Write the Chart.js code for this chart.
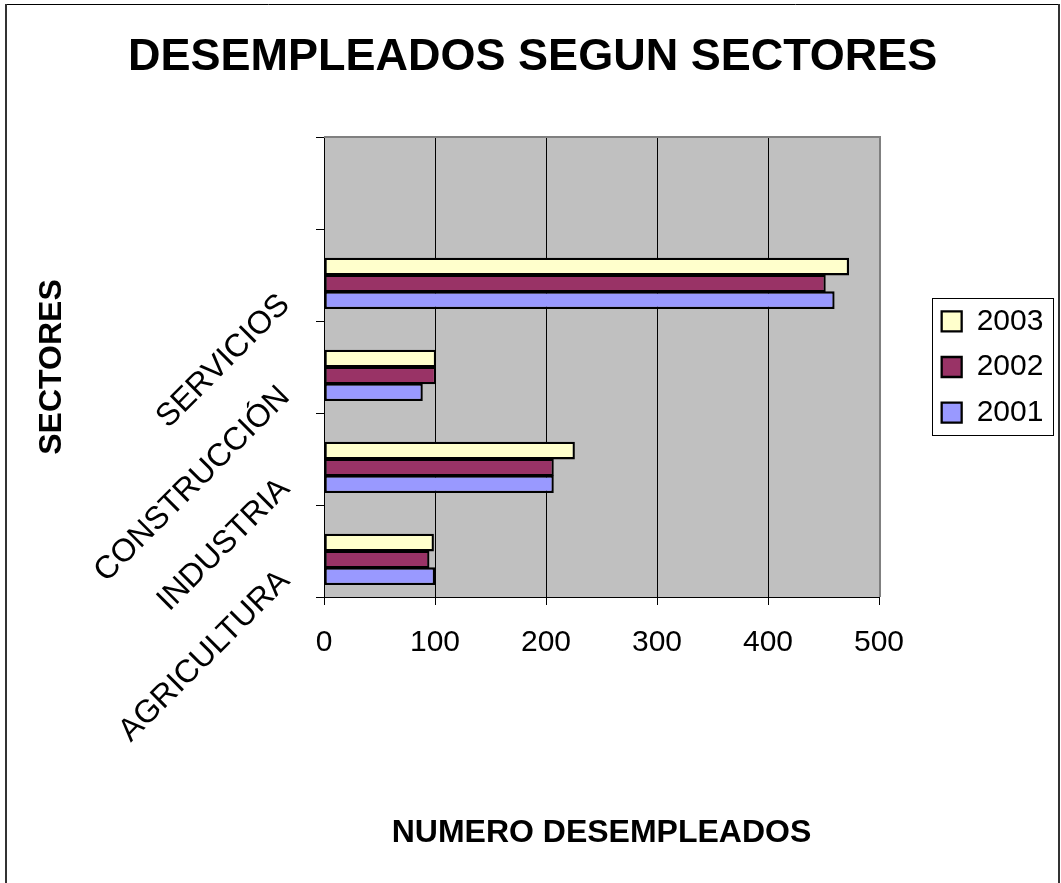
<!DOCTYPE html>
<html lang="es">
<head>
<meta charset="utf-8">
<title>Desempleados segun sectores</title>
<script src="https://cdn.jsdelivr.net/npm/chart.js@4/dist/chart.umd.min.js"></script>
<style>
    html, body { margin: 0; padding: 0; background: #ffffff; overflow: hidden; }
    canvas { display: block; }
</style>
</head>
<body>
<canvas id="graficoSectores" width="1061" height="883"></canvas>
<script>
// ====================================================================
// DATOS (de arriba hacia abajo en el eje vertical)
// ====================================================================
const sectores = ["", "SERVICIOS", "CONSTRUCCIÓN", "INDUSTRIA", "AGRICULTURA"];
const anios = ["2003", "2002", "2001"];
const datos2003 = [null, 473, 101, 226, 99];
const datos2002 = [null, 452, 101, 207, 95];
const datos2001 = [null, 460, 89, 207, 100];
const ticksX = [0, 100, 200, 300, 400, 500];

const colores = ["#FFFFCC", "#993366", "#9999FF"];
const fuente = '"Liberation Sans", Arial, sans-serif';

Chart.defaults.font.family = fuente;
Chart.defaults.color = "#000";

// Fondo blanco, marco exterior y fondo gris del area de trazado
const fondoPlugin = {
    id: "fondo",
    beforeDraw(chart) {
        const ctx = chart.ctx;
        const a = chart.chartArea;
        ctx.save();
        ctx.fillStyle = "#ffffff";
        ctx.fillRect(0, 0, chart.width, chart.height);
        ctx.fillStyle = "#C0C0C0";
        ctx.fillRect(a.left, a.top, a.right - a.left, a.bottom - a.top);
        // marco exterior
        ctx.strokeStyle = "#000";
        ctx.lineWidth = 1;
        ctx.beginPath();
        ctx.moveTo(5, 4.5);
        ctx.lineTo(1059, 4.5);
        ctx.stroke();
        ctx.strokeStyle = "#333";
        ctx.lineWidth = 2;
        ctx.beginPath();
        ctx.moveTo(6, 4);
        ctx.lineTo(6, chart.height);
        ctx.moveTo(1059, 4);
        ctx.lineTo(1059, chart.height);
        ctx.stroke();
        ctx.restore();
    },
    beforeDatasetsDraw(chart) {
        // borde gris arriba y a la derecha del area
        const ctx = chart.ctx;
        const a = chart.chartArea;
        ctx.save();
        ctx.strokeStyle = "#808080";
        ctx.lineWidth = 2;
        ctx.beginPath();
        ctx.moveTo(a.left, a.top);
        ctx.lineTo(a.right + 1, a.top);
        ctx.lineTo(a.right + 1, a.bottom);
        ctx.stroke();
        ctx.restore();
    },
    afterDraw(chart) {
        // recuadro de la leyenda
        const cajas = chart.legend.legendHitBoxes;
        if (!cajas || cajas.length === 0) return;
        const primera = cajas[0];
        const ultima = cajas[cajas.length - 1];
        const ctx = chart.ctx;
        ctx.save();
        ctx.strokeStyle = "#000";
        ctx.lineWidth = 1;
        ctx.strokeRect(
            Math.round(primera.left - 10) + 0.5,
            Math.round(primera.top - 8) + 0.5,
            Math.round(primera.width + 19),
            Math.round(ultima.top + ultima.height - primera.top + 16)
        );
        ctx.restore();
    }
};

const ctx = document.getElementById("graficoSectores");

new Chart(ctx, {
    type: "bar",
    data: {
        labels: sectores,
        datasets: [
            // hueco vacio: desplaza el grupo de barras hacia abajo como en el original
            { label: "", data: [] },
            { label: anios[0], data: datos2003, backgroundColor: colores[0] },
            { label: anios[1], data: datos2002, backgroundColor: colores[1] },
            { label: anios[2], data: datos2001, backgroundColor: colores[2] }
        ]
    },
    options: {
        indexAxis: "y",
        responsive: false,
        animation: false,
        layout: { padding: { left: 12, right: 7.6, top: 0, bottom: 0 } },
        datasets: {
            bar: {
                borderColor: "#000",
                borderWidth: 2.3,
                borderSkipped: false,
                categoryPercentage: 0.73,
                barPercentage: 1.05
            }
        },
        scales: {
            x: {
                min: 0,
                max: 500,
                afterBuildTicks: (scale) => {
                    scale.ticks = ticksX.map(v => ({ value: v }));
                },
                ticks: { padding: 20, font: { size: 30 }, color: "#000" },
                grid: { color: "#000", lineWidth: 1, tickLength: 8 },
                border: { color: "#000", width: 1 },
                title: {
                    display: true,
                    text: "NUMERO DESEMPLEADOS",
                    color: "#000",
                    font: { size: 32, weight: "bold" },
                    padding: { top: 0, bottom: 30.8 }
                },
                afterFit: (scale) => { scale.height = 286; }
            },
            y: {
                ticks: {
                    autoSkip: false,
                    minRotation: 45,
                    maxRotation: 45,
                    padding: 56,
                    font: { size: 32, lineHeight: 2.2 },
                    color: "#000",
                    // linea vacia delante: baja la etiqueta girada como en el original
                    callback: function (valor) {
                        return ["", this.getLabelForValue(valor)];
                    }
                },
                grid: { drawOnChartArea: false, color: "#000", tickLength: 8 },
                border: { color: "#000", width: 1 },
                title: {
                    display: true,
                    text: "SECTORES",
                    color: "#000",
                    font: { size: 32, weight: "bold" },
                    padding: { top: 21, bottom: 0 }
                },
                afterFit: (scale) => { scale.width = 312; }
            },
            // espacio entre el area de trazado y la leyenda
            y2: {
                type: "category",
                position: "right",
                ticks: { display: false },
                grid: { display: false },
                border: { display: false },
                afterFit: (scale) => { scale.width = 47; }
            }
        },
        plugins: {
            title: {
                display: true,
                text: "DESEMPLEADOS SEGUN SECTORES",
                color: "#000",
                font: { size: 45, weight: "bold" },
                padding: { top: 31, bottom: 52 }
            },
            legend: {
                position: "right",
                fullSize: false,
                labels: {
                    boxWidth: 20,
                    boxHeight: 20,
                    padding: 15.65,
                    color: "#000",
                    font: { size: 30 },
                    filter: (item) => item.text !== ""
                }
            },
            tooltip: { enabled: false }
        }
    },
    plugins: [fondoPlugin]
});
</script>
</body>
</html>
